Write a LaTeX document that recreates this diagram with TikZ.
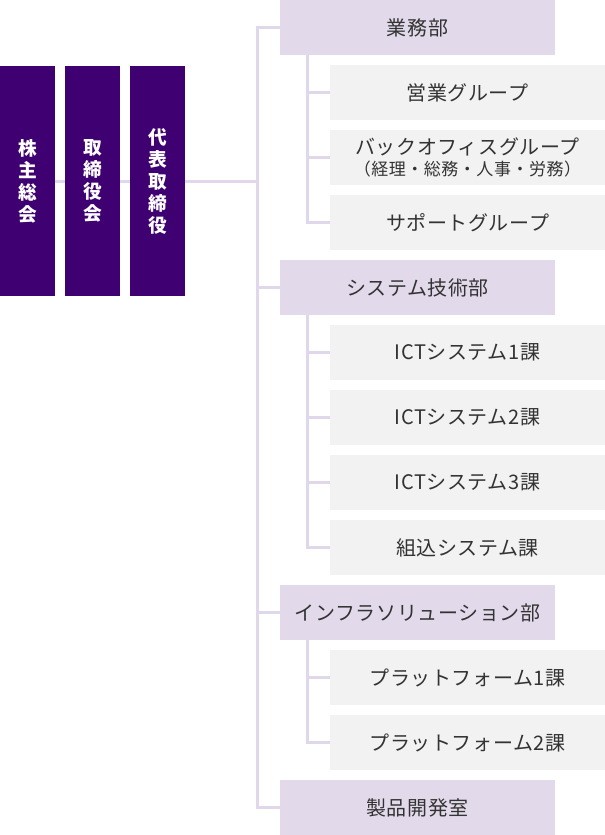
\documentclass[tikz,border=0pt]{standalone}
\usepackage{fontspec}
\newfontfamily\jpfont{Noto Sans CJK JP}[LetterSpace=3]
\newfontfamily\jpexec{Noto Sans CJK JP}

\definecolor{execpurple}{HTML}{3F0071}
\definecolor{deptlilac}{HTML}{E2DAEB}
\definecolor{sectgray}{HTML}{F2F2F2}
\definecolor{linklilac}{HTML}{E0D8EA}
\definecolor{textgray}{HTML}{333333}

\begin{document}
\begin{tikzpicture}[x=0.75pt,y=0.75pt,yscale=-1,xscale=1,
  exec/.style={fill=execpurple,text=white,minimum width=41.25pt,minimum height=172.5pt,inner sep=0pt,align=center,font=\jpexec\bfseries\fontsize{14pt}{16.5pt}\selectfont},
  dept/.style={fill=deptlilac,text=textgray,minimum width=206.25pt,minimum height=41.25pt,inner sep=0pt,align=center,font=\jpfont\fontsize{15pt}{18pt}\selectfont},
  sect/.style={dept,fill=sectgray},
  link/.style={draw=linklilac,line width=2.25pt}]
\useasboundingbox (0,0) rectangle (605,835);

%Executive columns
\node[exec] (kabunushi) at (27.5,181) {株\\主\\総\\会};
\node[exec] (torishimari) at (92.5,181) {取\\締\\役\\会};
\node[exec] (daihyo) at (157.5,181) {代\\表\\取\\締\\役};

%Departments
\node[dept] (gyomu) at (417.5,27.5) {業務部};
\node[dept] (system) at (417.5,287.5) {システム技術部};
\node[dept] (infra) at (417.5,612.5) {インフラソリューション部};
\node[dept] (seihin) at (417.5,807.5) {製品開発室};

%Sections
\node[sect] (eigyo) at (467.5,92.5) {営業グループ};
\node[sect] (backoffice) at (467.5,157.5) {バックオフィスグループ\\[-2pt]{\fontsize{12.75pt}{14pt}\selectfont （経理・総務・人事・労務）}};
\node[sect] (support) at (467.5,222.5) {サポートグループ};
\node[sect] (ictone) at (467.5,352.5) {ICTシステム1課};
\node[sect] (icttwo) at (467.5,417.5) {ICTシステム2課};
\node[sect] (ictthree) at (467.5,482.5) {ICTシステム3課};
\node[sect] (kumikomi) at (467.5,547.5) {組込システム課};
\node[sect] (pfone) at (467.5,677.5) {プラットフォーム1課};
\node[sect] (pftwo) at (467.5,742.5) {プラットフォーム2課};

%Trunk
\coordinate (trunk) at (257,181);
\draw[link] (kabunushi.east) -- (torishimari.west);
\draw[link] (torishimari.east) -- (daihyo.west);
\draw[link] (daihyo.east) -- (trunk);
\draw[link] (gyomu.west) -| (trunk);
\draw[link] (seihin.west) -| (trunk);
\draw[link] (system.west) -- (system.west -| trunk);
\draw[link] (infra.west) -- (infra.west -| trunk);

%Branches
\coordinate (gyomu stem) at (307,55);
\draw[link] (gyomu stem) |- (support.west);
\draw[link] (eigyo.west) -- (eigyo.west -| gyomu stem);
\draw[link] (backoffice.west) -- (backoffice.west -| gyomu stem);

\coordinate (system stem) at (307,315);
\draw[link] (system stem) |- (kumikomi.west);
\draw[link] (ictone.west) -- (ictone.west -| system stem);
\draw[link] (icttwo.west) -- (icttwo.west -| system stem);
\draw[link] (ictthree.west) -- (ictthree.west -| system stem);

\coordinate (infra stem) at (307,640);
\draw[link] (infra stem) |- (pftwo.west);
\draw[link] (pfone.west) -- (pfone.west -| infra stem);

\end{tikzpicture}
\end{document}
